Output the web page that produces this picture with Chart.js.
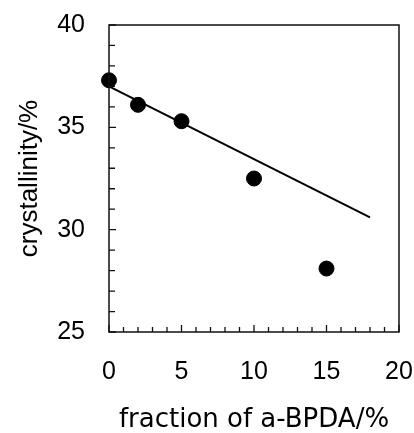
<!DOCTYPE html>
<html>
<head>
<meta charset="utf-8">
<script src="https://cdn.jsdelivr.net/npm/chart.js@4/dist/chart.umd.min.js"></script>
<style>
  html, body { margin: 0; padding: 0; background: #fff; }
  #wrap { width: 414px; height: 433px; }
</style>
</head>
<body>
<div id="wrap"><canvas id="c" width="414" height="433"></canvas></div>
<script>
// ── measured points ───────────────────────────────────────────────
const fractionX    = [0, 2, 5, 10, 15];
const crystalY     = [37.3, 36.1, 35.3, 32.5, 28.1];

// ── fitted straight line (two ends) ───────────────────────────────
const fitX = [0, 18];
const fitY = [37.0, 30.6];

const xTicks = [0, 5, 10, 15, 20];
const yTicks = [25, 30, 35, 40];

const FONT = "'Liberation Sans', Arial, sans-serif";

// inward tick marks + box frame, drawn from the chart's own scales
const frameTicks = {
  id: 'frameTicks',
  afterDraw(chart) {
    const { ctx, chartArea: a, scales: { x, y } } = chart;
    ctx.save();
    ctx.strokeStyle = '#111';
    ctx.lineWidth = 1.5;
    ctx.strokeRect(a.left, a.top, a.right - a.left, a.bottom - a.top);
    ctx.lineWidth = 1.3;
    ctx.beginPath();
    for (let v = 0; v <= 20; v++) {
      const px = x.getPixelForValue(v);
      const len = v % 5 === 0 ? 7 : 5;
      ctx.moveTo(px, a.bottom);
      ctx.lineTo(px, a.bottom - len);
    }
    for (let v = 25; v <= 40; v++) {
      const py = y.getPixelForValue(v);
      const len = v % 5 === 0 ? 7 : 6;
      ctx.moveTo(a.left, py);
      ctx.lineTo(a.left + len, py);
    }
    ctx.stroke();
    ctx.restore();
  }
};

new Chart(document.getElementById('c'), {
  type: 'scatter',
  data: {
    datasets: [
      {
        data: fractionX.map((v, i) => ({ x: v, y: crystalY[i] })),
        backgroundColor: '#000',
        borderColor: '#000',
        pointRadius: 7.5,
        pointHoverRadius: 7.5,
        clip: false,
      },
      {
        data: fitX.map((v, i) => ({ x: v, y: fitY[i] })),
        showLine: true,
        borderColor: '#000',
        borderWidth: 2,
        pointRadius: 0,
        clip: false,
      }
    ]
  },
  options: {
    responsive: false,
    animation: false,
    layout: { padding: { top: 25, right: 15, left: 0, bottom: 0 } },
    plugins: { legend: { display: false }, tooltip: { enabled: false } },
    scales: {
      x: {
        min: 0, max: 20,
        afterFit: s => { s.height = 101; s.paddingLeft = 0; s.paddingRight = 0; },
        afterBuildTicks: s => { s.ticks = xTicks.map(v => ({ value: v })); },
        grid: { display: false, drawTicks: false },
        border: { display: false },
        ticks: { color: '#000', padding: 25, maxRotation: 0, font: { family: FONT, size: 25 } },
        title: {
          display: true, text: 'fraction of a-BPDA/%', color: '#000',
          padding: 0,
          font: { family: "'DejaVu Sans', sans-serif", size: 26, lineHeight: 1 }
        }
      },
      y: {
        min: 25, max: 40,
        afterFit: s => { s.width = 109; s.paddingTop = 0; s.paddingBottom = 0; },
        afterBuildTicks: s => { s.ticks = yTicks.map(v => ({ value: v })); },
        grid: { display: false, drawTicks: false },
        border: { display: false },
        ticks: { color: '#000', padding: 24, font: { family: FONT, size: 25 } },
        title: {
          display: true, text: 'crystallinity/%', color: '#000',
          padding: { top: 17, bottom: 0 },
          font: { family: FONT, size: 26, lineHeight: 1 }
        }
      }
    }
  },
  plugins: [frameTicks]
});
</script>
</body>
</html>
